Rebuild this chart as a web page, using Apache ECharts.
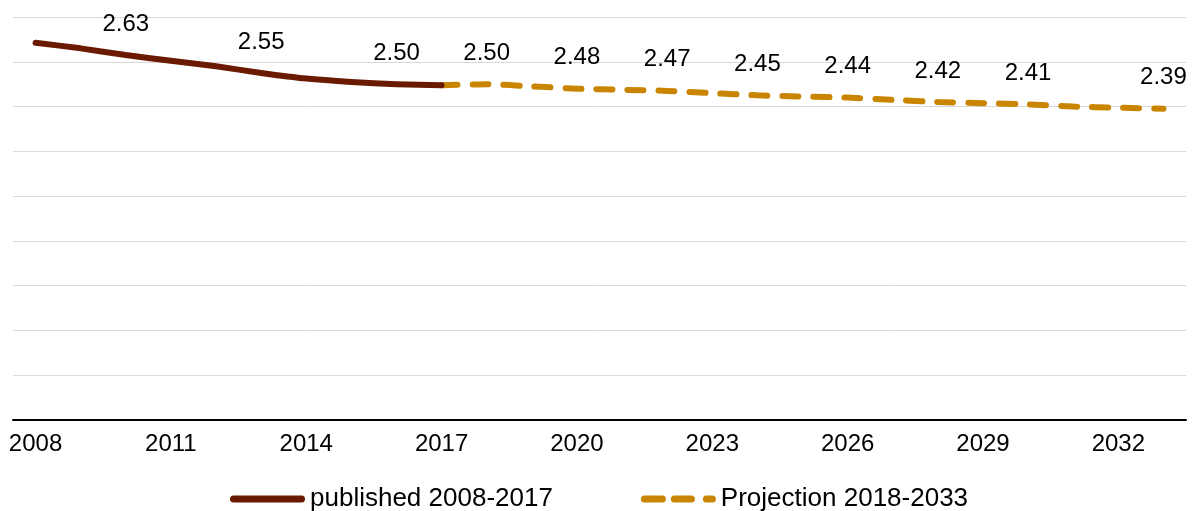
<!DOCTYPE html>
<html style="height: 100%">
  <head>
    <meta charset="utf-8">
    <title>published vs projection</title>
  </head>
  <body style="height: 100%; margin: 0">
    <div id="container" style="width: 1198px; height: 511px;"></div>
    <script type="text/javascript" src="https://cdn.jsdelivr.net/npm/echarts@6/dist/echarts.min.js"></script>
    <script type="text/javascript">
      // categories
      var years = ['2008','2009','2010','2011','2012','2013','2014','2015','2016','2017',
                   '2018','2019','2020','2021','2022','2023','2024','2025','2026','2027',
                   '2028','2029','2030','2031','2032','2033'];

      // published values
      var published = [2.685, 2.66, 2.63, 2.605, 2.58, 2.55, 2.525, 2.51, 2.50, 2.495,
                       null, null, null, null, null, null, null, null, null, null,
                       null, null, null, null, null, null];

      // projection values, starts at the 2017 point
      var projection = [null, null, null, null, null, null, null, null, null, 2.495,
                        2.50, 2.49, 2.48, 2.475, 2.47, 2.46, 2.45, 2.445, 2.44, 2.43,
                        2.42, 2.415, 2.41, 2.40, 2.395, 2.39];

      // which years get a value label
      var publishedLabelYears = ['2010', '2013', '2016'];
      var projectionLabelYears = ['2018', '2020', '2022', '2024', '2026', '2028', '2030', '2033'];

      var font = "'Liberation Sans', Arial, sans-serif";
      var brown = '#6a1a00';
      var gold = '#c98500';

      // legend icons: one rounded bar, three rounded dashes
      var solidIcon = 'path://M3.5,0L71.5,0A3.5,3.5,0,0,1,71.5,7L3.5,7A3.5,3.5,0,0,1,3.5,0Z';
      var dashIcon = 'path://M3.5,0L21.5,0A3.5,3.5,0,0,1,21.5,7L3.5,7A3.5,3.5,0,0,1,3.5,0Z' +
                     'M33.5,0L50.5,0A3.5,3.5,0,0,1,50.5,7L33.5,7A3.5,3.5,0,0,1,33.5,0Z' +
                     'M65.5,0L71.5,0A3.5,3.5,0,0,1,71.5,7L65.5,7A3.5,3.5,0,0,1,65.5,0Z';

      function labelFor(list) {
          return function (p) {
              return list.indexOf(p.name) >= 0 ? p.value.toFixed(2) : '';
          };
      }

      var dom = document.getElementById('container');
      var myChart = echarts.init(dom);

      var option = {
          animation: false,
          grid: {
              left: 13,
              right: 12,
              top: 17,
              bottom: 91,
              containLabel: false
          },
          legend: {
              top: 481,
              left: 225,
              itemWidth: 75,
              itemHeight: 7,
              itemGap: 88,
              textStyle: { fontFamily: font, fontSize: 26, color: '#000', padding: [0, 0, 0, 0] },
              data: [
                  { name: 'published 2008-2017', icon: solidIcon },
                  { name: 'Projection 2018-2033', icon: dashIcon }
              ]
          },
          xAxis: {
              type: 'category',
              boundaryGap: true,
              data: years,
              axisLine: { lineStyle: { color: '#000', width: 2 } },
              axisTick: { interval: 2, length: 6, lineStyle: { color: '#000', width: 1 } },
              axisLabel: {
                  interval: 2,
                  margin: 12,
                  color: '#000',
                  fontFamily: font,
                  fontSize: 24
              }
          },
          yAxis: {
              type: 'value',
              min: 1.0,
              max: 2.8,
              interval: 0.2,
              axisLabel: { show: false },
              axisLine: { show: false },
              axisTick: { show: false },
              splitLine: { lineStyle: { color: '#d9d9d9', width: 1 } }
          },
          series: [
              {
                  name: 'published 2008-2017',
                  type: 'line',
                  data: published,
                  symbol: 'circle',
                  symbolSize: 0.1,
                  showSymbol: true,
                  smooth: 0.2,
                  lineStyle: { color: brown, width: 6, cap: 'round', join: 'round' },
                  itemStyle: { color: brown },
                  label: {
                      show: true,
                      position: 'top',
                      distance: 19,
                      color: '#000',
                      fontFamily: font,
                      fontSize: 24,
                      formatter: labelFor(publishedLabelYears)
                  },
                  z: 3
              },
              {
                  name: 'Projection 2018-2033',
                  type: 'line',
                  data: projection,
                  symbol: 'circle',
                  symbolSize: 0.1,
                  showSymbol: true,
                  smooth: 0.2,
                  lineStyle: { color: gold, width: 6, type: [16, 15], cap: 'round' },
                  itemStyle: { color: gold },
                  label: {
                      show: true,
                      position: 'top',
                      distance: 19,
                      color: '#000',
                      fontFamily: font,
                      fontSize: 24,
                      formatter: labelFor(projectionLabelYears)
                  },
                  z: 2
              }
          ]
      };

      myChart.setOption(option);
    </script>
  </body>
</html>
